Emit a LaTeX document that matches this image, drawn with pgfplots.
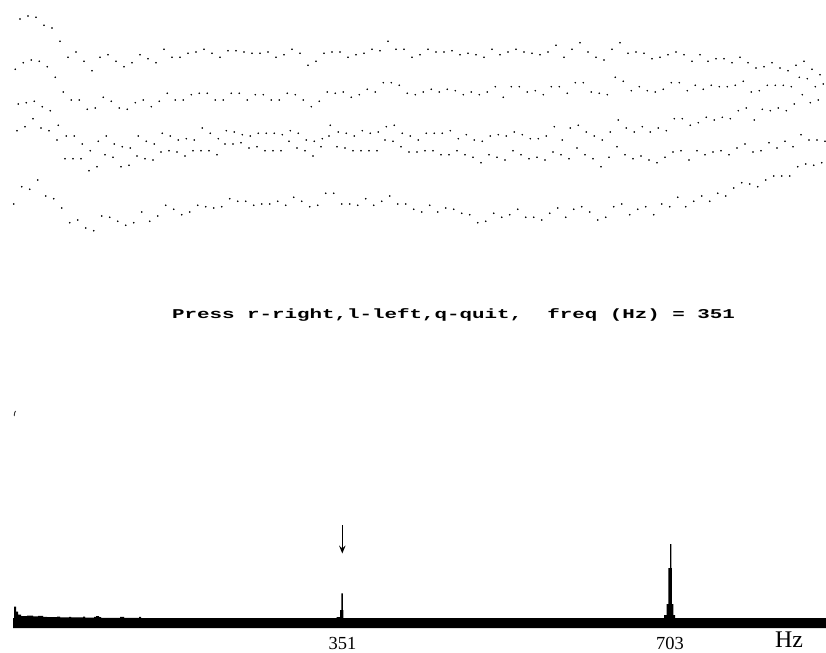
\documentclass[border=0pt]{standalone}
\usepackage{pgfplots}
\usepackage{fontspec}
\usepackage{graphicx}
\pgfplotsset{compat=1.18}
\usetikzlibrary{arrows.meta}
\setmainfont{Liberation Serif}
\newfontfamily\pressfont{Liberation Mono}
\pgfplotsset{dots/.style={only marks,mark=*,mark size=0.58bp,mark options={draw=none,fill=black!85},forget plot}}
\begin{document}
\begin{tikzpicture}[x=1bp,y=1bp]
\path[use as bounding box] (0,0) rectangle (826,653);
\begin{axis}[
  at={(0,0)},anchor=south west,
  scale only axis,width=826bp,height=653bp,
  xmin=0,xmax=826,ymin=0,ymax=653,y dir=reverse,
  hide axis,clip=false]
% trace A
\addplot[dots] coordinates {
(20,19)(28,16)(36,17.3)(44,25.3)(52,28)(60,41.3)(68,57.3)(76,52)(84,61.3)(92,70.7)(100,57.3)(108,54.7)(116,61.3)(124,66.7)(132,62.7)(140,54.7)(148,58.7)(156,62.7)(164,49.3)(172,57.3)(180,57.3)(188,53.3)(196,52)(204,49.3)(212,53.3)(220,57.3)(228,50.7)(236,50.7)(244,52)(252,53.3)(260,53.3)(268,52)(276,57.3)
(284,54.7)(292,49.3)(300,53.3)(308,65.3)(316,61.3)(324,53.3)(332,52)(340,52)(348,57.3)(356,54.7)(364,53.3)(372,49.3)(380,50.7)(388,41.3)(396,49.3)(404,49.3)(412,57.3)(420,54.7)(428,49.3)(436,52)(444,52)(452,50.7)(460,54.7)(468,53.3)(476,54.7)(484,57.3)(492,49.3)(500,54.7)(508,52)(516,49.3)(524,52)(532,53.3)(540,54.7)(548,52)
(556,45.3)(564,57.3)(572,49.3)(580,42.7)(588,52)(596,57.3)(604,60)(612,49.3)(620,42.7)(628,53.3)(636,52)(644,53.3)(652,58.7)(660,57.3)(668,54.7)(676,52)(684,54.7)(692,61.3)(700,54.7)(708,61.3)(716,58.7)(724,58.7)(732,62.7)(740,57.3)(748,62.7)(756,68)(764,66.7)(772,62.7)(780,68)(788,70.7)(796,65.3)(804,61.3)(812,69.3)(820,74.7)};
% trace B
\addplot[dots] coordinates {
(15.3,69.3)(23.3,62.7)(31.3,60)(39.3,61.3)(47.3,66.7)(55.3,77.3)(63.3,92)(71.3,100)(79.3,100)(87.3,109.3)(95.3,108)(103.3,97.3)(111.3,101.3)(119.3,108)(127.3,109.3)(135.3,102.7)(143.3,100)(151.3,106.7)(159.3,101.3)(167.3,93.3)(175.3,100)(183.3,100)(191.3,94.7)(199.3,93.3)(207.3,93.3)(215.3,100)(223.3,100)(231.3,93.3)(239.3,93.3)(247.3,100)(255.3,94.7)(263.3,94.7)(271.3,100)(279.3,100)
(287.3,93.3)(295.3,94.7)(303.3,100)(311.3,106.7)(319.3,101.3)(327.3,92)(335.3,93.3)(343.3,92)(351.3,97.3)(359.3,94.7)(367.3,89.3)(375.3,92)(383.3,82.7)(391.3,82.7)(399.3,85.3)(407.3,93.3)(415.3,94.7)(423.3,92)(431.3,89.3)(439.3,92)(447.3,89.3)(455.3,90.7)(463.3,94.7)(471.3,92)(479.3,94.7)(487.3,92)(495.3,86.7)(503.3,97.3)(511.3,86.7)(519.3,86.7)(527.3,92)(535.3,90.7)(543.3,94.7)(551.3,86.7)
(559.3,86.7)(567.3,93.3)(575.3,82.7)(583.3,82.7)(591.3,92)(599.3,93.3)(607.3,94.7)(615.3,77.3)(623.3,81.3)(631.3,90.7)(639.3,86.7)(647.3,90.7)(655.3,92)(663.3,89.3)(671.3,82.7)(679.3,82.7)(687.3,90.7)(695.3,85.3)(703.3,89.3)(711.3,85.3)(719.3,86.7)(727.3,86.7)(735.3,85.3)(743.3,81.3)(751.3,92)(759.3,90.7)(767.3,85.3)(775.3,85.3)(783.3,85.3)(791.3,86.7)(799.3,77.3)(807.3,78.7)(815.3,86.7)(823.3,84)};
% trace C
\addplot[dots] coordinates {
(18.3,104)(26.3,102.7)(34.3,101.3)(42.3,106.7)(50.3,110.7)(58.3,125.3)(66.3,136)(74.3,136)(82.3,144)(90.3,150.7)(98.3,141.3)(106.3,136)(114.3,144)(122.3,146.7)(130.3,148)(138.3,136)(146.3,141.3)(154.3,144)(162.3,133.3)(170.3,136)(178.3,140)(186.3,138.7)(194.3,140)(202.3,128)(210.3,133.3)(218.3,138.7)(226.3,130.7)(234.3,132)(242.3,134.7)(250.3,136)(258.3,133.3)(266.3,133.3)(274.3,133.3)
(282.3,134.7)(290.3,130.7)(298.3,133.3)(306.3,140)(314.3,141.3)(322.3,138.7)(330.3,125.3)(338.3,132)(346.3,133.3)(354.3,136)(362.3,130.7)(370.3,133.3)(378.3,132)(386.3,126.7)(394.3,125.3)(402.3,133.3)(410.3,136)(418.3,140)(426.3,133.3)(434.3,133.3)(442.3,133.3)(450.3,130.7)(458.3,138.7)(466.3,134.7)(474.3,140)(482.3,141.3)(490.3,136)(498.3,134.7)(506.3,136)(514.3,132)(522.3,134.7)(530.3,138.7)(538.3,138.7)(546.3,136)(554.3,126.7)
(562.3,140)(570.3,128)(578.3,125.3)(586.3,132)(594.3,136)(602.3,140)(610.3,132)(618.3,120)(626.3,128)(634.3,132)(642.3,126.7)(650.3,132)(658.3,128)(666.3,130.7)(674.3,118.7)(682.3,118.7)(690.3,125.3)(698.3,122.7)(706.3,117.3)(714.3,120)(722.3,117.3)(730.3,118.7)(738.3,110.7)(746.3,108)(754.3,120)(762.3,109.3)(770.3,110.7)(778.3,108)(786.3,110.7)(794.3,104)(802.3,94.7)(810.3,102.7)(818.3,100)};
% trace D
\addplot[dots] coordinates {
(17,130.7)(25,126.7)(33,118.7)(41,128)(49,130.7)(57,140)(65,158.7)(73,158.7)(81,158.7)(89,170.7)(97,166.7)(105,154.7)(113,157.3)(121,166.7)(129,165.3)(137,156)(145,158.7)(153,160)(161,152)(169,150.7)(177,152)(185,156)(193,150.7)(201,150.7)(209,150.7)(217,154.7)(225,144)(233,144)(241,142.7)(249,148)(257,146.7)(265,150.7)(273,150.7)
(281,150.7)(289,141.3)(297,148)(305,150.7)(313,156)(321,146.7)(329,136)(337,146.7)(345,148)(353,150.7)(361,150.7)(369,150.7)(377,150.7)(385,140)(393,141.3)(401,146.7)(409,152)(417,152)(425,150.7)(433,150.7)(441,154.7)(449,154.7)(457,150.7)(465,154.7)(473,157.3)(481,162.7)(489,154.7)(497,157.3)(505,160)(513,150.7)(521,154.7)(529,158.7)(537,157.3)(545,160)(553,152)
(561,154.7)(569,158.7)(577,148)(585,154.7)(593,158.7)(601,166.7)(609,157.3)(617,146.7)(625,154.7)(633,158.7)(641,156)(649,160)(657,162.7)(665,157.3)(673,152)(681,150.7)(689,160)(697,150.7)(705,154.7)(713,152)(721,150.7)(729,154.7)(737,148)(745,144)(753,152)(761,150.7)(769,142.7)(777,148)(785,141.3)(793,146.7)(801,134.7)(809,140)(817,140)(825,141.3)};
% trace E
\addplot[dots] coordinates {
(13.7,204)(21.7,186.7)(29.7,189.3)(37.7,180)(45.7,196)(53.7,198.7)(61.7,208)(69.7,222.7)(77.7,220)(85.7,228)(93.7,230.7)(101.7,216)(109.7,217.3)(117.7,221.3)(125.7,225.3)(133.7,222.7)(141.7,212)(149.7,221.3)(157.7,216)(165.7,205.3)(173.7,209.3)(181.7,214.7)(189.7,212)(197.7,205.3)(205.7,206.7)(213.7,208)(221.7,206.7)(229.7,198.7)(237.7,201.3)(245.7,201.3)(253.7,205.3)(261.7,204)(269.7,204)(277.7,201.3)
(285.7,205.3)(293.7,197.3)(301.7,201.3)(309.7,206.7)(317.7,205.3)(325.7,193.3)(333.7,193.3)(341.7,204)(349.7,204)(357.7,205.3)(365.7,198.7)(373.7,205.3)(381.7,201.3)(389.7,196)(397.7,204)(405.7,204)(413.7,209.3)(421.7,212)(429.7,205.3)(437.7,212)(445.7,208)(453.7,209.3)(461.7,213.3)(469.7,214.7)(477.7,222.7)(485.7,221.3)(493.7,213.3)(501.7,217.3)(509.7,214.7)(517.7,209.3)(525.7,217.3)(533.7,217.3)(541.7,220)(549.7,213.3)
(557.7,208)(565.7,217.3)(573.7,209.3)(581.7,206.7)(589.7,212)(597.7,220)(605.7,217.3)(613.7,206.7)(621.7,204)(629.7,214.7)(637.7,209.3)(645.7,206.7)(653.7,214.7)(661.7,204)(669.7,206.7)(677.7,197.3)(685.7,206.7)(693.7,201.3)(701.7,196)(709.7,201.3)(717.7,193.3)(725.7,196)(733.7,188)(741.7,182.7)(749.7,184)(757.7,186.7)(765.7,180)(773.7,176)(781.7,176)(789.7,176)(797.7,166.7)(805.7,164)(813.7,165.3)(821.7,162.7)};
% stray mark of the lower trace
\addplot[black!80,line width=0.9bp,forget plot] coordinates {(14.2,416)(14.6,413)(15.6,411)};
% spectrum with its thick base line
\addplot[fill=black,draw=none,forget plot] coordinates {
(13,628)(13,618.2)(14,618.2)(14,606.5)(16,606.5)(16,611.7)(18,611.7)(18,614.7)(21,614.7)(21,616)(27,616)(27,615.6)(33,615.6)(33,616.3)(38,616.3)(38,615.8)(43,615.8)(43,616.8)(47,616.8)(47,617.2)(57,617.2)(57,616.6)(60,616.6)(60,617.3)(69,617.3)(69,616.8)(71,616.8)(71,617.3)(83,617.3)(83,616.6)(85,616.6)(85,617.6)(94,617.6)(94,616.8)(96,616.8)(96,616)(99,616)(99,617)(101,617)(101,617.8)(120,617.8)(120,616.8)(124,616.8)(124,617.8)(139,617.8)(139,616.8)(141,616.8)(141,618.2)
(336.5,618.2)(336.5,617.2)(340,617.2)(340,610)(341.4,610)(341.4,593.3)(342.8,593.3)(342.8,610)(343.4,610)(343.4,618.2)
(664,618.2)(664,615)(666.7,615)(666.7,604)(668.3,604)(668.3,568)(670,568)(670,544)(671.4,544)(671.4,568)(671.8,568)(671.8,604)(673.3,604)(673.3,615)(675,615)(675,618.2)
(826,618.2)(826,628)} -- cycle;
\draw[black,line width=1bp,-{Stealth[length=8bp,width=6.5bp,inset=3bp]}] (axis cs:342.3,525) -- (axis cs:342.3,553.5);
\node[font=\fontsize{18.5}{18.5}\selectfont,anchor=center,inner sep=0pt] at (axis cs:342.5,643) {351};
\node[font=\fontsize{18.5}{18.5}\selectfont,anchor=center,inner sep=0pt] at (axis cs:670,643) {703};
\node[font=\fontsize{24}{24}\selectfont,anchor=center,inner sep=0pt] at (axis cs:789,639.5) {Hz};
\node[anchor=center,inner sep=0pt] at (axis cs:453.5,314.5) {\scalebox{1.55}[1]{\fontsize{13.5}{13.5}\selectfont\pressfont\bfseries Press r-right,l-left,q-quit,~~freq (Hz) = 351}};
\end{axis}
\end{tikzpicture}
\end{document}
